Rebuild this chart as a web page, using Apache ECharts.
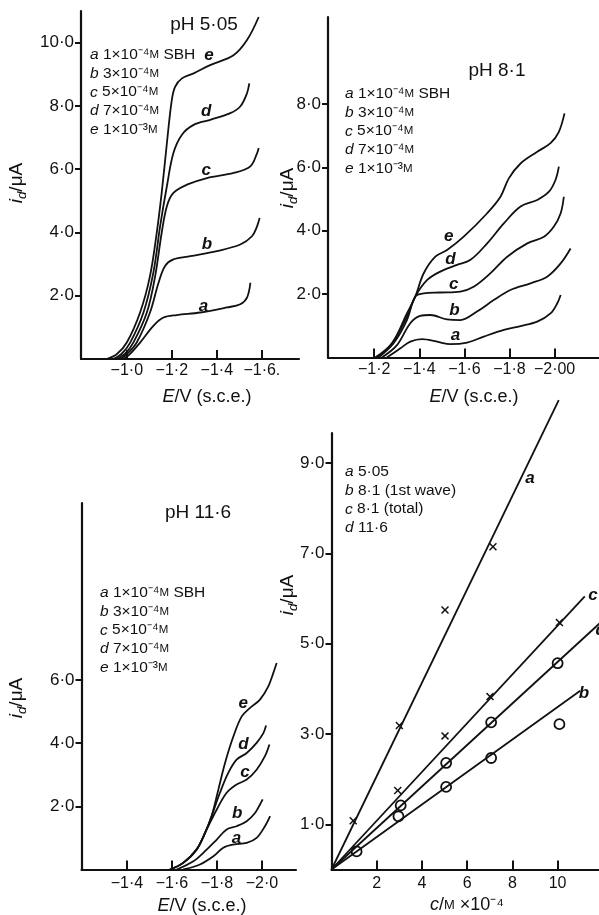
<!DOCTYPE html>
<html><head><meta charset="utf-8">
<script src="https://cdn.jsdelivr.net/npm/echarts@6/dist/echarts.min.js"></script>
<style>html,body{margin:0;padding:0;background:#fff}#c{width:599px;height:915px}</style>
</head><body><div id="c"></div>
<script>
// ---------------- DATA ----------------
const curveLetters = ['a', 'b', 'c', 'd', 'e'];
const concTexts = ['1×10⁻⁴', '3×10⁻⁴', '5×10⁻⁴', '7×10⁻⁴', '1×10⁻³'];
const panelTitles = ['pH 5·05', 'pH 8·1', 'pH 11·6'];

// pH 5.05 polarograms  [E/V, i/µA]
const ph505_a = [[-0.985,0],[-1.01,0.13],[-1.059,0.52],[-1.118,1.05],[-1.163,1.31],[-1.222,1.39],[-1.326,1.47],[-1.445,1.63],[-1.504,1.73],[-1.534,1.94],[-1.549,2.41]];
const ph505_b = [[-0.97,0],[-1.0,0.15],[-1.044,0.52],[-1.103,1.47],[-1.141,2.41],[-1.17,2.94],[-1.207,3.15],[-1.282,3.25],[-1.4,3.41],[-1.504,3.62],[-1.556,3.88],[-1.579,4.2],[-1.59,4.46]];
const ph505_c = [[-0.955,0],[-0.99,0.15],[-1.029,0.52],[-1.089,1.47],[-1.126,2.62],[-1.155,3.99],[-1.178,4.83],[-1.207,5.25],[-1.267,5.51],[-1.356,5.72],[-1.475,5.88],[-1.549,6.09],[-1.579,6.51],[-1.586,6.67]];
const ph505_d = [[-0.94,0],[-0.975,0.15],[-1.015,0.52],[-1.074,1.47],[-1.118,2.73],[-1.148,4.2],[-1.178,5.46],[-1.207,6.51],[-1.245,7.09],[-1.297,7.4],[-1.371,7.56],[-1.46,7.77],[-1.504,7.98],[-1.534,8.4],[-1.544,8.71]];
const ph505_e = [[-0.91,0],[-0.955,0.15],[-1.0,0.52],[-1.059,1.47],[-1.103,2.62],[-1.133,3.99],[-1.155,5.25],[-1.178,6.82],[-1.2,8.19],[-1.215,8.61],[-1.245,8.87],[-1.297,9.03],[-1.37,9.29],[-1.474,9.6],[-1.534,10.08],[-1.586,10.81]];
const ph505_labelPos = [[-1.341,1.68],[-1.356,3.62],[-1.353,5.98],[-1.353,7.82],[-1.365,9.6]];

// pH 8.1 polarograms
const ph81_a = [[-1.256,0],[-1.316,0.29],[-1.36,0.5],[-1.412,0.58],[-1.479,0.5],[-1.538,0.42],[-1.612,0.47],[-1.686,0.66],[-1.775,0.87],[-1.849,0.99],[-1.923,1.13],[-1.982,1.39],[-2.012,1.71],[-2.027,1.97]];
const ph81_b = [[-1.234,0],[-1.301,0.39],[-1.36,1.08],[-1.404,1.31],[-1.449,1.34],[-1.523,1.2],[-1.582,1.18],[-1.656,1.45],[-1.73,1.81],[-1.804,2.13],[-1.893,2.34],[-1.967,2.55],[-2.027,2.97],[-2.071,3.44]];
const ph81_c = [[-1.219,0],[-1.286,0.45],[-1.345,1.18],[-1.382,1.92],[-1.419,2.02],[-1.493,2.05],[-1.582,2.08],[-1.641,2.23],[-1.716,2.66],[-1.79,3.18],[-1.879,3.6],[-1.953,3.81],[-1.997,4.13],[-2.027,4.55],[-2.041,5.07]];
const ph81_d = [[-1.212,0],[-1.279,0.45],[-1.345,1.29],[-1.382,1.92],[-1.434,2.44],[-1.493,2.71],[-1.567,2.92],[-1.627,3.08],[-1.701,3.6],[-1.775,4.23],[-1.849,4.76],[-1.923,4.97],[-1.975,5.23],[-2.004,5.6],[-2.019,6.02]];
const ph81_e = [[-1.204,0],[-1.279,0.45],[-1.345,1.39],[-1.382,1.92],[-1.419,2.65],[-1.471,3.18],[-1.523,3.39],[-1.597,3.81],[-1.701,4.55],[-1.76,5.07],[-1.797,5.65],[-1.849,6.12],[-1.923,6.49],[-1.982,6.76],[-2.019,7.12],[-2.044,7.7]];
const ph81_labelPos = [[-1.56,0.71],[-1.556,1.5],[-1.553,2.31],[-1.538,3.1],[-1.53,3.83]];

// pH 11.6 polarograms
const ph116_a = [[-1.65,0],[-1.724,0.16],[-1.784,0.42],[-1.828,0.69],[-1.873,0.79],[-1.932,0.84],[-1.976,1.0],[-2.013,1.37],[-2.036,1.69]];
const ph116_b = [[-1.621,0],[-1.695,0.26],[-1.754,0.63],[-1.799,0.95],[-1.843,1.27],[-1.887,1.37],[-1.932,1.53],[-1.969,1.79],[-1.991,2.06],[-2.003,2.22]];
const ph116_c = [[-1.591,0],[-1.65,0.21],[-1.709,0.63],[-1.754,1.27],[-1.799,1.9],[-1.843,2.43],[-1.887,2.69],[-1.932,2.85],[-1.976,3.16],[-2.013,3.59],[-2.033,3.96]];
const ph116_d = [[-1.591,0],[-1.65,0.21],[-1.709,0.63],[-1.747,1.16],[-1.776,1.69],[-1.813,2.43],[-1.85,3.06],[-1.887,3.48],[-1.932,3.69],[-1.976,4.01],[-2.006,4.32],[-2.018,4.56]];
const ph116_e = [[-1.591,0],[-1.65,0.21],[-1.709,0.63],[-1.747,1.16],[-1.776,1.69],[-1.806,2.53],[-1.836,3.38],[-1.873,4.22],[-1.91,4.85],[-1.947,5.12],[-1.991,5.38],[-2.028,5.8],[-2.05,6.22],[-2.065,6.54]];
const ph116_labelPos = [[-1.887,1.0],[-1.89,1.79],[-1.924,3.08],[-1.917,3.96],[-1.917,5.27]];

// calibration plot: c / M x 10^-4 vs i / µA
const calibLetters = ['a', 'b', 'c', 'd'];
const calibLegend = ['5·05', '8·1 (1st wave)', '8·1 (total)', '11·6'];
const calib_a_pts = [[0.96,1.08],[3.0,3.19],[5.02,5.75],[7.14,7.15]];      // crosses
const calib_c_pts = [[2.93,1.75],[5.02,2.96],[7.01,3.83],[10.08,5.47]];    // crosses
const calib_b_pts = [[1.11,0.4],[2.96,1.18],[5.07,1.83],[7.06,2.47],[10.08,3.22]]; // circles
const calib_d_pts = [[3.06,1.42],[5.07,2.36],[7.06,3.26],[10.0,4.57]];     // circles
const calib_a_line = [[0,0],[10.05,10.4]];
const calib_b_line = [[0,0],[11.0,3.96]];
const calib_c_line = [[0,0],[11.2,6.05]];
const calib_d_line = [[0,0],[11.85,5.45]];
const calib_labelPos = [[8.78,8.67],[11.16,3.91],[11.56,6.08],[11.9,5.3]];

// tick values / labels
const p1xTicks = [-1.0,-1.2,-1.4,-1.6];       const p1xLabels = ['−1·0','−1·2','−1·4','−1·6.'];
const p2xTicks = [-1.2,-1.4,-1.6,-1.8,-2.0];  const p2xLabels = ['−1·2','−1·4','−1·6','−1·8','−2·00'];
const p3xTicks = [-1.4,-1.6,-1.8,-2.0];       const p3xLabels = ['−1·4','−1·6','−1·8','−2·0'];
const p4xTicks = [2,4,6,8,10];                const p4xLabels = ['2','4','6','8','10'];
const p1yTicks = [2,4,6,8,10];                const p1yLabels = ['2·0','4·0','6·0','8·0','10·0'];
const p2yTicks = [2,4,6,8];                   const p2yLabels = ['2·0','4·0','6·0','8·0'];
const p3yTicks = [2,4,6];                     const p3yLabels = ['2·0','4·0','6·0'];
const p4yTicks = [1,3,5,7,9];                 const p4yLabels = ['1·0','3·0','5·0','7·0','9·0'];

// ---------------- CHART ----------------
const INK = '#111111';
const FONT = "'Liberation Sans', Arial, sans-serif";
const chart = echarts.init(document.getElementById('c'), null, {renderer: 'canvas', width: 599, height: 915});

const grids = [
  {left: 81, top: 11, width: 218, height: 348},
  {left: 328, top: 17, width: 271, height: 340.5},
  {left: 81.5, top: 503, width: 214.5, height: 366.5},
  {left: 331.5, top: 433, width: 267.5, height: 436.5}
];
const xRanges = [[-1.765,-0.7965],[-2.197,-0.995],[-2.151,-1.198],[0,11.83]];
const yMax = [11, 10.74, 11.61, 9.67];
const xTicks = [p1xTicks,p2xTicks,p3xTicks,p4xTicks];
const xLabels = [p1xLabels,p2xLabels,p3xLabels,p4xLabels];
const yTicks = [p1yTicks,p2yTicks,p3yTicks,p4yTicks];
const yLabels = [p1yLabels,p2yLabels,p3yLabels,p4yLabels];
const xLabelMargin = [4, 4, 6, 6];

function lookup(ticks, labels) {
  return function (v) {
    for (let k = 0; k < ticks.length; k++) if (Math.abs(ticks[k] - v) < 1e-6) return labels[k];
    return '';
  };
}

const xAxes = grids.map((g, i) => ({
  gridIndex: i, type: 'value', inverse: i < 3,
  min: xRanges[i][0], max: xRanges[i][1],
  axisLine: {onZero: false, lineStyle: {color: INK, width: 2.2}},
  axisTick: {show: true, inside: true, length: 9, customValues: xTicks[i], lineStyle: {color: INK, width: 2}},
  axisLabel: {customValues: xTicks[i], formatter: lookup(xTicks[i], xLabels[i]), color: INK,
    fontSize: 16, fontFamily: FONT, margin: xLabelMargin[i]},
  splitLine: {show: false}
}));
const yAxes = grids.map((g, i) => ({
  gridIndex: i, type: 'value', min: 0, max: yMax[i],
  axisLine: {show: true, onZero: false, lineStyle: {color: INK, width: 2.2}},
  axisTick: {show: true, inside: false, length: 6, customValues: yTicks[i], lineStyle: {color: INK, width: 2}},
  axisLabel: {customValues: yTicks[i], formatter: lookup(yTicks[i], yLabels[i]), color: INK,
    fontSize: 17, fontFamily: FONT, margin: 7},
  splitLine: {show: false}
}));

const series = [];
function curve(i, data) {
  series.push({type: 'line', xAxisIndex: i, yAxisIndex: i, data: data, smooth: 0.35,
    symbol: 'none', lineStyle: {color: INK, width: 1.8}, silent: true, animation: false});
}
function letterLabels(i, pos, letters) {
  series.push({type: 'scatter', xAxisIndex: i, yAxisIndex: i, symbol: 'circle', symbolSize: 1,
    itemStyle: {color: 'rgba(0,0,0,0)', opacity: 1}, silent: true, animation: false, clip: false,
    data: pos.map((p, k) => ({value: p, name: letters[k]})),
    label: {show: true, position: 'inside', formatter: '{b}', color: INK, opacity: 1, fontSize: 17,
      fontStyle: 'italic', fontWeight: 'bold', fontFamily: FONT}});
}
[ph505_a, ph505_b, ph505_c, ph505_d, ph505_e].forEach(d => curve(0, d));
letterLabels(0, ph505_labelPos, curveLetters);
[ph81_a, ph81_b, ph81_c, ph81_d, ph81_e].forEach(d => curve(1, d));
letterLabels(1, ph81_labelPos, curveLetters);
[ph116_a, ph116_b, ph116_c, ph116_d, ph116_e].forEach(d => curve(2, d));
letterLabels(2, ph116_labelPos, curveLetters);

[calib_a_line, calib_b_line, calib_c_line, calib_d_line].forEach(d => {
  series.push({type: 'line', xAxisIndex: 3, yAxisIndex: 3, data: d, symbol: 'none', clip: false,
    lineStyle: {color: INK, width: 1.8}, silent: true, animation: false});
});
const CROSS = 'path://M0,1.3 L1.3,0 L5,3.7 L8.7,0 L10,1.3 L6.3,5 L10,8.7 L8.7,10 L5,6.3 L1.3,10 L0,8.7 L3.7,5 Z';
[calib_a_pts, calib_c_pts].forEach(d => {
  series.push({type: 'scatter', xAxisIndex: 3, yAxisIndex: 3, data: d, symbol: CROSS, symbolSize: 8,
    itemStyle: {color: INK, opacity: 1}, silent: true, animation: false, clip: false});
});
[calib_b_pts, calib_d_pts].forEach(d => {
  series.push({type: 'scatter', xAxisIndex: 3, yAxisIndex: 3, data: d, symbol: 'circle', symbolSize: 10,
    itemStyle: {color: '#fff', borderColor: INK, borderWidth: 1.8, opacity: 1}, silent: true, animation: false, clip: false});
});
letterLabels(3, calib_labelPos, calibLetters);

// ---------- text blocks ----------
const richBase = {
  it: {fontStyle: 'italic', fontSize: 15.5, fontFamily: FONT, fill: INK, lineHeight: 18.6},
  m: {fontSize: 11.5, fontFamily: FONT, fill: INK, lineHeight: 18.6}
};
function legendText(lines, left, firstY) {
  return {type: 'text', left: left, top: firstY - 9.3, z: 10,
    style: {text: lines.join('\n'), fontSize: 15.5, fontFamily: FONT, fill: INK, lineHeight: 18.6, rich: richBase}};
}
const concLines = curveLetters.map((l, k) => `{it|${l}} ${concTexts[k]}{m|M}` + (k === 0 ? ' SBH' : ''));
const calibLines = calibLetters.map((l, k) => `{it|${l}} ${calibLegend[k]}`);

function centerText(text, x, y, size, rot) {
  return {type: 'text', x: x, y: y, rotation: rot || 0, z: 10,
    style: {text: text, fontSize: size, fontFamily: FONT, fill: INK,
      align: 'center', verticalAlign: 'middle', textAlign: 'center', textVerticalAlign: 'middle',
      rich: {
        it: {fontStyle: 'italic', fontSize: size, fontFamily: FONT, fill: INK, lineHeight: 24},
        n: {fontSize: size, fontFamily: FONT, fill: INK, lineHeight: 24},
        sub: {fontStyle: 'italic', fontSize: size * 0.7, fontFamily: FONT, fill: INK, verticalAlign: 'bottom', lineHeight: 15},
        m: {fontSize: size * 0.72, fontFamily: FONT, fill: INK, lineHeight: 24}
      }}};
}
const eName = '{it|E}{n|/V (s.c.e.)}';
const iName = '{it|i}{sub|d}{n|/μA}';
const cName = '{it|c}{n|/}{m|M}{n| ×10⁻⁴}';

const graphics = [
  centerText(panelTitles[0], 204, 25, 19),
  centerText(panelTitles[1], 497, 71, 19),
  centerText(panelTitles[2], 198, 513, 19),
  legendText(concLines, 90, 55),
  legendText(concLines, 345, 94),
  legendText(concLines, 100, 593),
  legendText(calibLines, 345, 472),
  centerText(eName, 207, 397, 18),
  centerText(eName, 474, 397, 18),
  centerText(eName, 202, 906, 18),
  centerText(cName, 467, 905, 18),
  centerText(iName, 17, 183, 19, Math.PI / 2),
  centerText(iName, 288, 188, 19, Math.PI / 2),
  centerText(iName, 17, 698, 19, Math.PI / 2),
  centerText(iName, 288, 595, 19, Math.PI / 2)
];

chart.setOption({
  animation: false,
  backgroundColor: '#fff',
  grid: grids,
  xAxis: xAxes,
  yAxis: yAxes,
  series: series,
  graphic: graphics
});
</script>
</body></html>
